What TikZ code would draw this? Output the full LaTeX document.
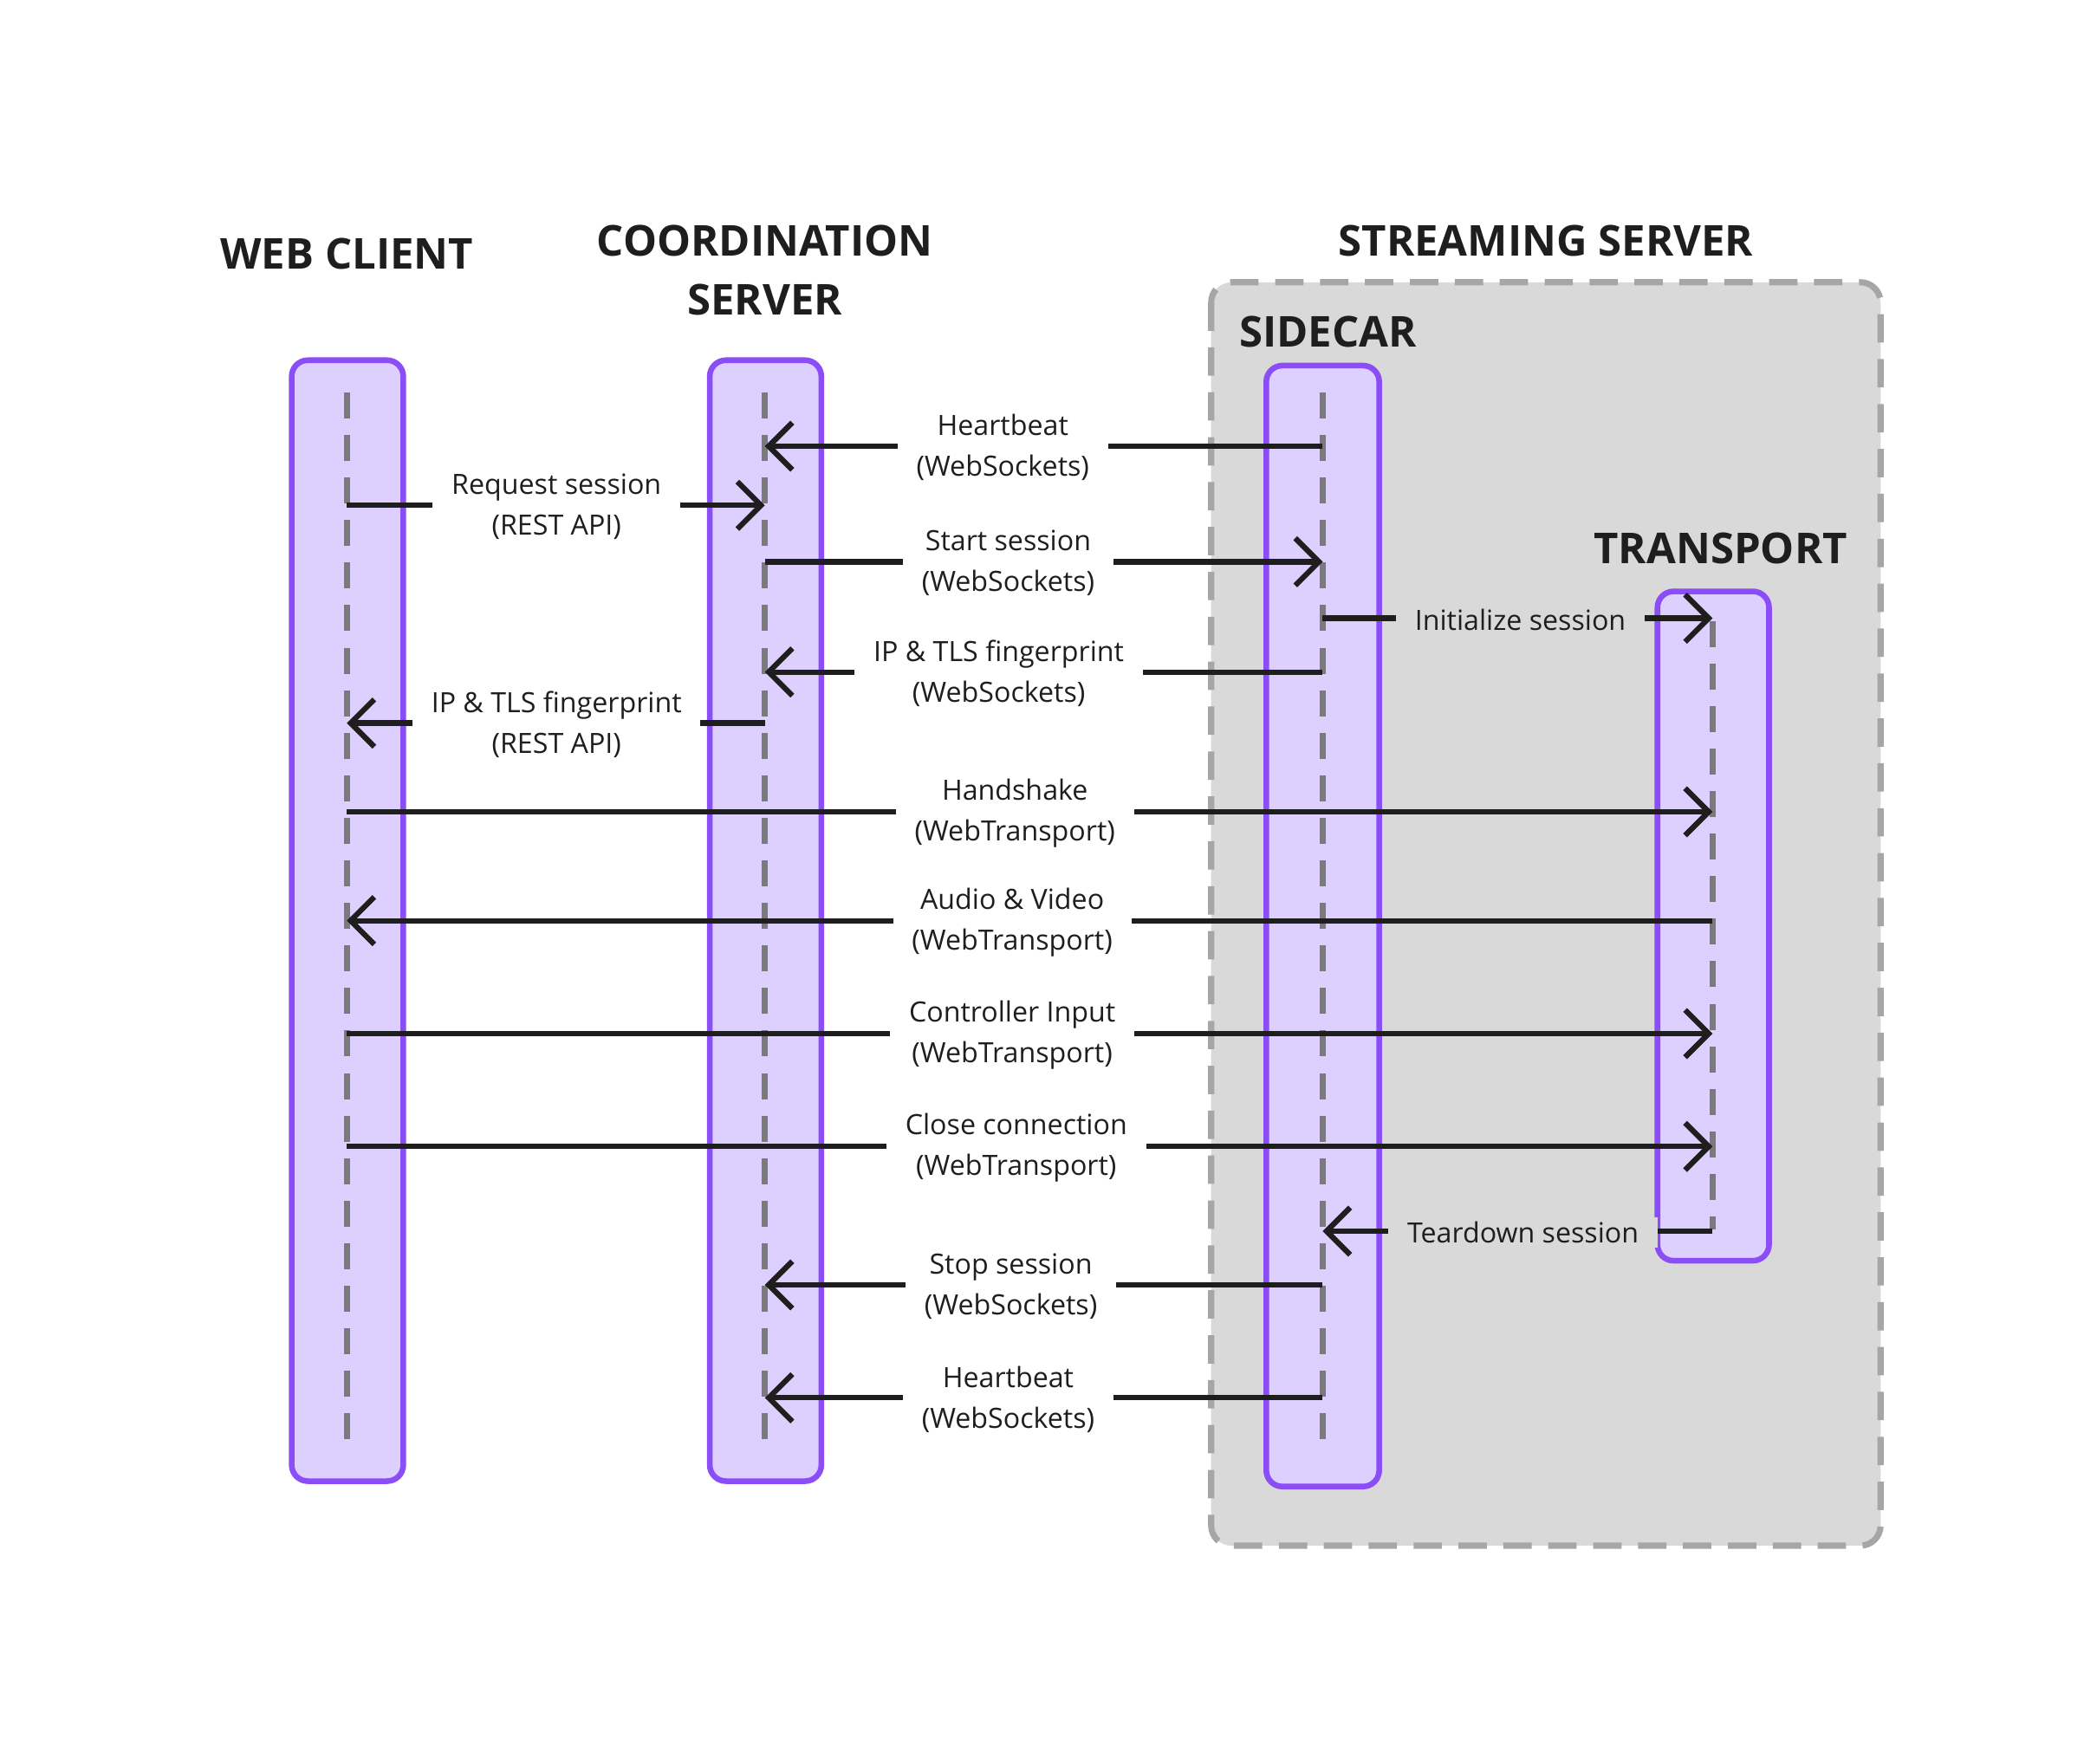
\documentclass[tikz,border=0pt]{standalone}
\usepackage{fontspec}
\setmainfont{Open Sans}
\usetikzlibrary{arrows.meta}
\definecolor{barfill}{HTML}{DDD0FE}
\definecolor{barline}{HTML}{8A4DF6}
\definecolor{boxfill}{HTML}{D9D9D9}
\definecolor{boxline}{HTML}{A6A6A6}
\definecolor{ink}{HTML}{1E1E1E}
\definecolor{life}{HTML}{7A7A7A}
\begin{document}
\begin{tikzpicture}[x=0.01cm,y=-0.01cm,
  bar/.style={draw=barline,fill=barfill,line width=1.2pt,rounded corners=1.2mm},
  lifeline/.style={draw=life,line width=1.2pt,dash pattern=on 5.5pt off 3.5pt},
  title/.style={font=\fontsize{9}{12.5}\selectfont\bfseries,text=ink,align=center},
  msg/.style={draw=ink,line width=1.15pt,-{Straight Barb[length=5pt,width=10pt,line width=1.15pt]}},
  lbl/.style={fill=white,font=\fontsize{5.9}{8.6}\selectfont,text=ink,align=center,inner xsep=4pt,inner ysep=1pt},
  glbl/.style={lbl,fill=boxfill}]
\useasboundingbox (0,0) rectangle (1560,1312);
% streaming server box
\draw[draw=boxline,fill=boxfill,line width=1.3pt,dash pattern=on 6pt off 3.5pt,rounded corners=1.5mm] (901,210) rectangle (1399,1150);
% bars
\draw[bar] (217,268) rectangle (300,1102);
\draw[bar] (528,268) rectangle (611,1102);
\draw[bar] (942,272) rectangle (1026,1106);
\draw[bar] (1233,440) rectangle (1316,938);
\draw[lifeline] (258,292) -- (258,1082);
\draw[lifeline] (569,292) -- (569,1082);
\draw[lifeline] (984,292) -- (984,1082);
\draw[lifeline] (1274,462) -- (1274,915);
% titles
\node[title] (twc) at (258,189) {WEB CLIENT};
\node[title] (tcs) at (569,201) {COORDINATION\\SERVER};
\node[title] (tss) at (1150,179) {STREAMING SERVER};
\node[title] (tsc) at (988,247) {SIDECAR};
\node[title] (ttr) at (1280,408) {TRANSPORT};
% messages: name, y, from x, to x, label
\newcommand{\msgline}[6]{%
  \coordinate (#1s) at (#3,#2); \coordinate (#1e) at (#4,#2);
  \draw[msg] (#1s) -- (#1e);
  \node[#6] (#1l) at (#5,#2+1) {#1x};}
\newcommand{\mymsg}[7]{%
  \coordinate (#1s) at (#3,#2); \coordinate (#1e) at (#4,#2);
  \draw[msg] (#1s) -- (#1e);
  \node[#6] (#1l) at (#5,#2+1) {#7};}
\mymsg{m1}{332}{984}{569}{746}{lbl}{Heartbeat\\(WebSockets)}
\mymsg{m2}{376}{258}{569}{414}{lbl}{Request session\\(REST API)}
\mymsg{m3}{418}{569}{984}{750}{lbl}{Start session\\(WebSockets)}
\mymsg{m4}{460}{984}{1274}{1131}{glbl}{Initialize session}
\mymsg{m5}{500}{984}{569}{743}{lbl}{IP \& TLS fingerprint\\(WebSockets)}
\mymsg{m6}{538}{569}{258}{414}{lbl}{IP \& TLS fingerprint\\(REST API)}
\mymsg{m7}{604}{258}{1274}{755}{lbl}{Handshake\\(WebTransport)}
\mymsg{m8}{685}{1274}{258}{753}{lbl}{Audio \& Video\\(WebTransport)}
\mymsg{m9}{769}{258}{1274}{753}{lbl}{Controller Input\\(WebTransport)}
\mymsg{m10}{853}{258}{1274}{756}{lbl}{Close connection\\(WebTransport)}
\mymsg{m11}{916}{1274}{984}{1133}{glbl}{Teardown session}
\mymsg{m12}{956}{984}{569}{752}{lbl}{Stop session\\(WebSockets)}
\mymsg{m13}{1040}{984}{569}{750}{lbl}{Heartbeat\\(WebSockets)}
\end{tikzpicture}
\end{document}
